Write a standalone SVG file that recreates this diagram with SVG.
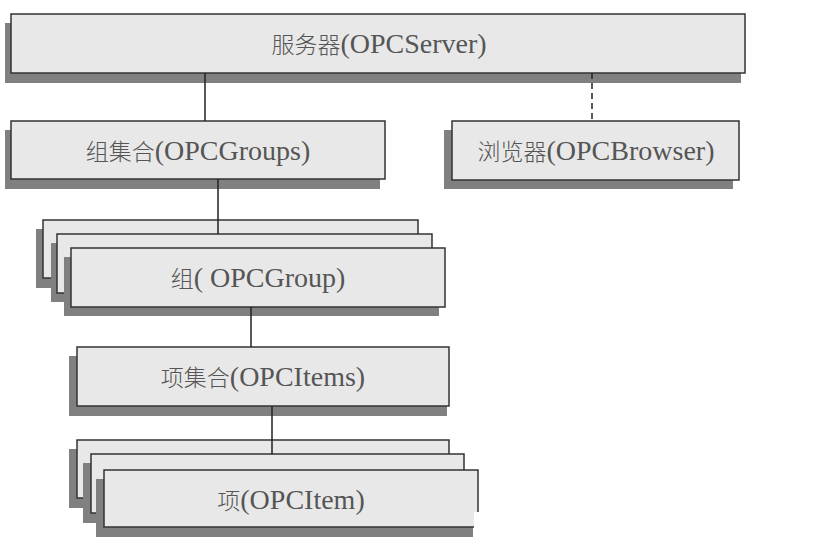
<svg xmlns="http://www.w3.org/2000/svg" width="826" height="558" viewBox="0 0 826 558">
<style>
.box{fill:#e8e8e8;stroke:#333;stroke-width:1.5}
.sh{fill:#808080}
.t{font-family:"Liberation Serif","Noto Sans CJK SC",serif;font-size:28px;fill:#555;text-anchor:middle}
.z{font-family:"Noto Sans CJK SC","Liberation Serif",sans-serif;font-size:23px;font-weight:300}
.c{stroke:#222;stroke-width:1.5;fill:none}
</style>
<rect width="826" height="558" fill="#fff"/>
<g id="server">
<rect class="sh" x="5" y="23" width="736" height="60"/>
<rect class="box" x="11" y="14" width="734" height="59"/>
<text class="t" x="379" y="53"><tspan class="z">服务器</tspan>(OPCServer)</text>
</g>
<g id="groups">
<rect class="sh" x="5" y="130" width="375" height="59"/>
<rect class="box" x="11" y="121" width="374" height="58"/>
<text class="t" x="198" y="160"><tspan class="z">组集合</tspan>(OPCGroups)</text>
</g>
<g id="browser">
<rect class="sh" x="444" y="130" width="289" height="59"/>
<rect class="box" x="452" y="121" width="287" height="59"/>
<text class="t" x="596" y="160"><tspan class="z">浏览器</tspan>(OPCBrowser)</text>
</g>
<g id="group">
<rect class="sh" x="36" y="229" width="376" height="59"/>
<rect class="box" x="43" y="220" width="375" height="58"/>
<rect class="sh" x="51" y="243" width="376" height="59"/>
<rect class="box" x="57" y="234" width="375" height="59"/>
<rect class="sh" x="64" y="257" width="375" height="59"/>
<rect class="box" x="71" y="248" width="374" height="59"/>
<text class="t" x="258" y="287"><tspan class="z">组</tspan>( OPCGroup)</text>
</g>
<g id="items">
<rect class="sh" x="69" y="356" width="378" height="60"/>
<rect class="box" x="77" y="347" width="372" height="59"/>
<text class="t" x="263" y="386"><tspan class="z">项集合</tspan>(OPCItems)</text>
</g>
<g id="item">
<rect class="sh" x="69" y="449" width="374" height="59"/>
<rect class="box" x="77" y="440" width="372" height="58"/>
<rect class="sh" x="83" y="463" width="375" height="60"/>
<rect class="box" x="91" y="454" width="373" height="59"/>
<rect class="sh" x="96" y="479" width="377" height="58"/>
<rect class="box" x="104" y="470" width="374" height="57"/>
<text class="t" x="291" y="509"><tspan class="z">项</tspan>(OPCItem)</text>
<rect x="474" y="512" width="20" height="40" fill="#fff"/>
</g>
<g id="connectors">
<line class="c" x1="205" y1="73" x2="205" y2="121"/>
<line class="c" x1="592" y1="73" x2="592" y2="121" stroke-dasharray="6,4"/>
<line class="c" x1="218" y1="179" x2="218" y2="234"/>
<line class="c" x1="251" y1="307" x2="251" y2="347"/>
<line class="c" x1="272" y1="406" x2="272" y2="454"/>
</g>
</svg>
